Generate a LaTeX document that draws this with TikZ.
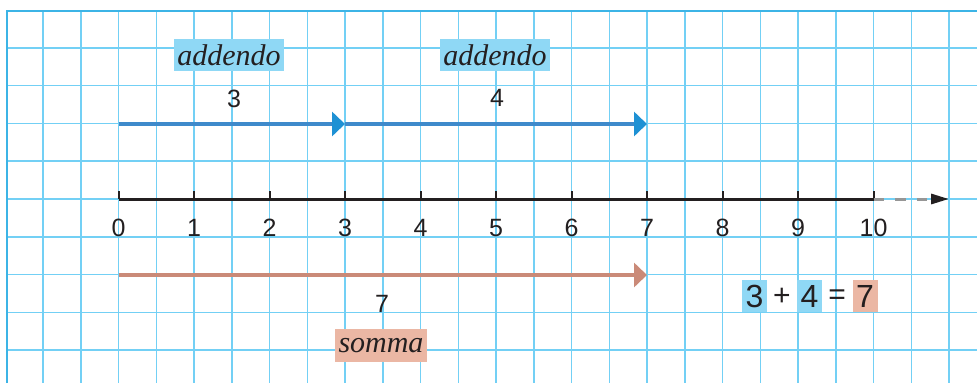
\documentclass[tikz,border=0pt]{standalone}
\usepackage{fontspec}
\setmainfont{Liberation Serif}
\setsansfont{Liberation Sans}
\usetikzlibrary{arrows.meta}
\definecolor{gridc}{RGB}{115,208,245}
\definecolor{gridb}{RGB}{60,180,230}
\definecolor{bluel}{RGB}{62,138,203}
\definecolor{bluet}{RGB}{30,145,212}
\definecolor{bluebox}{RGB}{143,216,245}
\definecolor{salmonl}{RGB}{202,138,120}
\definecolor{salmonbox}{RGB}{235,183,164}
\definecolor{ink}{RGB}{35,31,32}
\definecolor{dashg}{RGB}{150,150,150}
\tikzset{
  gridline/.style={gridc, line width=1.5pt},
  border/.style={gridb, line width=1.8pt},
  num/.style={font=\sffamily\fontsize{25}{30}\selectfont, text=ink, inner sep=0pt},
  eqsign/.style={font=\sffamily\fontsize{30}{36}\selectfont, text=ink, inner sep=0pt},
  eqnum/.style={font=\sffamily\fontsize{32}{38}\selectfont, text=ink, inner sep=0pt, minimum width=25pt, minimum height=32pt},
  word/.style={font=\itshape\fontsize{30}{36}\selectfont, text=ink, inner sep=0pt, minimum height=32pt},
  bluearrow/.style={bluel, line width=4.7pt, -{Triangle[length=13pt,width=24pt,color=bluet]}},
  salmonarrow/.style={salmonl, line width=4.7pt, -{Triangle[length=13pt,width=24pt,color=salmonl]}},
  axisline/.style={ink, line width=3pt},
  tickline/.style={ink, line width=2pt},
  dashline/.style={dashg, line width=3pt, dash pattern=on 10.5pt off 11pt, -{Triangle[length=18pt,width=10pt,color=ink]}}
}
\begin{document}
\begin{tikzpicture}[x=1pt,y=-1pt]
\useasboundingbox (0,0) rectangle (977,383);
\fill[white] (0,0) rectangle (977,383);
% grid
\foreach \k in {-2,...,22} \draw[gridline] ({118.5+\k*37.75},11) -- ({118.5+\k*37.75},383);
\foreach \k in {-4,...,4} \draw[gridline] (7,{199+\k*37.8}) -- (977,{199+\k*37.8});
\draw[border] (7,383) -- (7,11) -- (977,11);
% number line
\foreach \i in {0,...,10} {
  \coordinate (p\i) at ({118.5+75.5*\i},199);
}
\draw[axisline] (p0) -- (p10);
\foreach \i in {0,...,10} {
  \draw[tickline] (p\i) -- ++(0,-8);
  \node[num] (t\i) at ({118.5+75.5*\i},228) {\i};
}
\coordinate (axend) at (949,199);
\draw[dashline] (p10) -- (axend);
% addend arrows
\coordinate (a0) at (118.5,124);
\coordinate (a3) at (345,124);
\coordinate (a7) at (647,124);
\draw[bluearrow] (a0) -- (a3);
\draw[bluearrow] (a3) -- (a7);
\node[num] (l3) at (234,98.5) {3};
\node[num] (l4) at (497,98) {4};
\node[word, fill=bluebox, minimum width=110pt] (add1) at (229,55) {addendo};
\node[word, fill=bluebox, minimum width=110pt] (add2) at (495,55) {addendo};
% sum arrow
\coordinate (s0) at (118.5,275);
\coordinate (s7) at (647,275);
\draw[salmonarrow] (s0) -- (s7);
\node[num] (l7) at (382,304) {7};
\node[word, fill=salmonbox, minimum width=92pt, minimum height=33pt] (som) at (381,345.5) {somma};
% equation
\node[eqnum, fill=bluebox] (e3) at (754.5,296) {3};
\node[eqsign] (eplus) at (782,297) {+};
\node[eqnum, fill=bluebox] (e4) at (809.5,296) {4};
\node[eqsign] (eeq) at (837,297) {=};
\node[eqnum, fill=salmonbox] (e7) at (865,296) {7};
\end{tikzpicture}
\end{document}
